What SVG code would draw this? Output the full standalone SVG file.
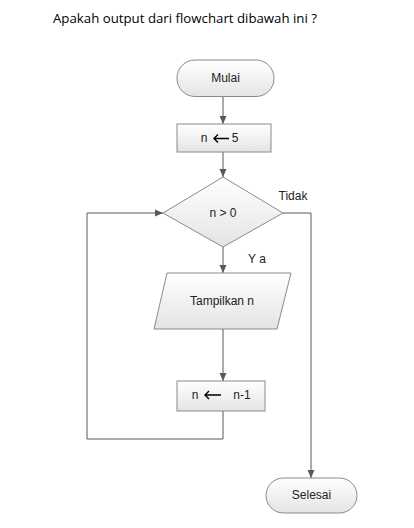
<svg xmlns="http://www.w3.org/2000/svg" width="414" height="528" viewBox="0 0 414 528">
<style>
.shape{fill:url(#g);stroke:#8a8a8a;stroke-width:1}
.lbl{font-family:"Liberation Sans",Arial,sans-serif;font-size:12px;fill:#222;text-anchor:middle}
.con{fill:none;stroke:#595959;stroke-width:1}
.title{font-family:"Open Sans","Liberation Sans",sans-serif;font-size:13px;fill:#000}
</style>
<defs>
<linearGradient id="g" x1="0" y1="0" x2="0" y2="1">
<stop offset="0" stop-color="#ffffff"/>
<stop offset="1" stop-color="#e4e4e4"/>
</linearGradient>
<marker id="ah" markerWidth="8" markerHeight="8" viewBox="0 0 8 8" refX="8" refY="4" orient="auto" markerUnits="userSpaceOnUse">
<path d="M0,0.5 L8,4 L0,7.5 Z" fill="#595959"/>
</marker>
</defs>
<rect width="414" height="528" fill="#ffffff"/>
<text class="title" x="53" y="23" textLength="264" lengthAdjust="spacingAndGlyphs">Apakah output dari flowchart dibawah ini ?</text>

<g id="connectors">
<path class="con" d="M223,96.5 V124" marker-end="url(#ah)"/>
<path class="con" d="M223,152 V177" marker-end="url(#ah)"/>
<path class="con" d="M223,247 V273" marker-end="url(#ah)"/>
<path class="con" d="M223,329 V381" marker-end="url(#ah)"/>
<path class="con" d="M223,411 V439 H87 V213 H163" marker-end="url(#ah)"/>
<path class="con" d="M283,213 H311 V478" marker-end="url(#ah)"/>
<text class="lbl" x="293" y="200" font-size="11">Tidak</text>
<text class="lbl" x="257" y="263" font-size="11">Y a</text>
</g>

<g id="mulai">
<rect class="shape" x="177" y="60" width="97" height="36.5" rx="18" ry="18"/>
<text class="lbl" x="225.5" y="82">Mulai</text>
</g>
<g id="init">
<rect class="shape" x="177" y="124" width="94" height="28"/>
<text class="lbl" x="204" y="142">n</text>
<path d="M214,138.5 H229 M218,134.5 L214,138.5 L218,142.5" fill="none" stroke="#000" stroke-width="1.4"/>
<text class="lbl" x="235" y="142">5</text>
</g>
<g id="decision">
<polygon class="shape" points="223,177 283,213 223,247 163,213"/>
<text class="lbl" x="223" y="217">n &gt; 0</text>
</g>
<g id="output">
<polygon class="shape" points="167,273 291,273 277,329 154,329"/>
<text class="lbl" x="222" y="305">Tampilkan n</text>
</g>
<g id="decrement">
<rect class="shape" x="177" y="381" width="88" height="30"/>
<text class="lbl" x="195" y="399">n</text>
<path d="M205,395 H221 M209,391 L205,395 L209,399" fill="none" stroke="#000" stroke-width="1.4"/>
<text class="lbl" x="242" y="399">n-1</text>
</g>
<g id="selesai">
<rect class="shape" x="266" y="478" width="91" height="35" rx="17.5" ry="17.5"/>
<text class="lbl" x="311.5" y="499">Selesai</text>
</g>
</svg>
